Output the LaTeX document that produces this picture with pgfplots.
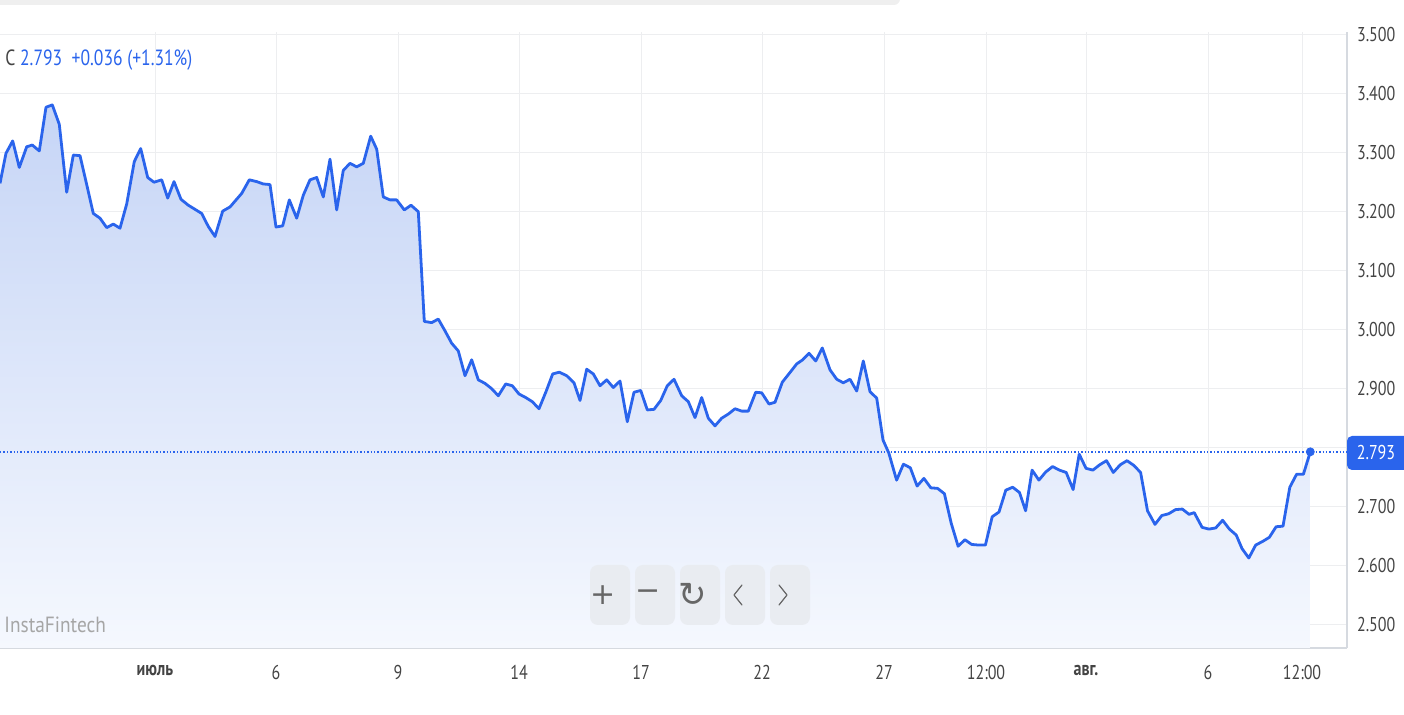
\documentclass[border=0pt]{standalone}
\usepackage{pgfplots}
\pgfplotsset{compat=1.18}
\usepackage{fontspec}
\setmainfont{PT Sans}[FakeStretch=0.88]
\newfontfamily\condfont{PT Sans}[FakeStretch=0.8]
\newfontfamily\symfont{DejaVu Sans}
\definecolor{lineblue}{HTML}{2A64EC}
\definecolor{filltop}{HTML}{C6D5F6}
\definecolor{fillbot}{HTML}{F5F8FE}
\definecolor{gridgray}{HTML}{EDEEF0}
\definecolor{axisgray}{HTML}{D6DAE0}
\definecolor{labelgray}{HTML}{444444}
\definecolor{btngray}{HTML}{E9ECF1}
\definecolor{topbar}{HTML}{EFEFEF}

% price, x in chart pixels
\pgfplotstableread{
x y
0 3.248
6 3.299
12.7 3.320
19.3 3.275
26.7 3.310
32.3 3.313
39.3 3.303
46 3.377
52.3 3.381
59.3 3.348
66.7 3.233
73.3 3.296
80 3.295
86.7 3.246
93.3 3.197
100 3.189
106.7 3.173
113.3 3.179
120 3.172
126.7 3.213
134.3 3.285
140.7 3.307
147.7 3.258
154 3.250
161.7 3.254
167.7 3.223
174 3.251
181 3.221
188.3 3.211
195 3.204
201.7 3.197
208.3 3.175
215 3.158
222.7 3.201
230 3.208
241.7 3.231
249.3 3.254
256.7 3.251
263.3 3.247
270 3.246
276 3.174
282.7 3.176
289.3 3.220
296.7 3.189
303.3 3.228
310 3.254
316.7 3.258
323.3 3.225
330 3.289
336.7 3.203
343.3 3.270
350 3.282
356.7 3.276
363.3 3.282
370.7 3.328
376.7 3.306
383.3 3.225
390 3.220
396.7 3.220
404.3 3.203
411 3.211
418.3 3.200
424.3 3.014
431.7 3.012
438.3 3.018
445 2.998
451.7 2.977
458.3 2.964
465 2.922
471.7 2.949
478.3 2.915
485 2.909
491.7 2.900
498.3 2.888
505.7 2.908
512.3 2.905
519 2.891
525.7 2.885
532.3 2.878
539 2.866
546 2.895
552.7 2.925
559.3 2.928
566.7 2.922
574 2.910
580 2.880
586.7 2.933
593.3 2.925
600 2.905
606.7 2.915
613.3 2.902
620 2.913
627.3 2.844
634 2.894
640.7 2.897
647.3 2.864
654 2.865
660.7 2.880
667.3 2.905
674 2.916
681.7 2.888
688.3 2.878
695 2.851
701.7 2.885
708.3 2.850
715 2.837
721.7 2.850
728.3 2.857
735 2.866
741.7 2.862
748.3 2.862
755.7 2.894
761.7 2.893
769 2.874
775 2.877
782.3 2.911
789.3 2.926
796.7 2.942
802.7 2.949
809 2.960
815.7 2.947
822.3 2.969
830 2.932
836.7 2.916
843.3 2.910
850 2.916
856.7 2.896
863.3 2.947
870 2.895
876.7 2.884
883 2.813
888.8 2.791
896.6 2.745
903.4 2.772
910.3 2.766
917.1 2.735
923.9 2.748
930.8 2.732
937.6 2.731
944.4 2.722
951.2 2.672
958.1 2.633
964.9 2.644
971.7 2.636
978.5 2.635
985.4 2.635
992.2 2.683
999 2.691
1005.8 2.728
1012.7 2.733
1019.5 2.724
1025.6 2.693
1032.1 2.762
1038.9 2.745
1045.8 2.759
1052.6 2.768
1059.4 2.762
1066.2 2.758
1073.1 2.729
1079.2 2.789
1086 2.765
1092.9 2.762
1099.7 2.771
1106.5 2.778
1113.3 2.758
1120.2 2.771
1127 2.778
1133.8 2.770
1140.6 2.758
1147.5 2.693
1155 2.670
1161.8 2.685
1168.6 2.688
1175.5 2.695
1182.3 2.696
1189.1 2.687
1194.2 2.690
1202.1 2.665
1208.9 2.662
1215.7 2.664
1222.6 2.677
1229.4 2.662
1236.2 2.652
1242 2.629
1248.8 2.613
1255.7 2.635
1262.5 2.641
1269.3 2.648
1276.1 2.666
1283 2.667
1289.8 2.733
1296.6 2.755
1303.4 2.755
1310.3 2.793
}\price

\begin{document}
\begin{tikzpicture}
\begin{axis}[
  at={(0pt,0pt)}, anchor=south west,
  scale only axis, width=673.5pt, height=308pt,
  xmin=0, xmax=1347, ymin=2.4605, ymax=3.5046,
  axis x line*=bottom, axis y line*=right,
  x axis line style={draw=axisgray, line width=1.2pt},
  y axis line style={draw=axisgray, line width=0.8pt},
  major tick length=0pt,
  grid=major, major grid style={draw=gridgray, line width=0.5pt},
  xtick={155,276,398,519,641,762,884,986,1086,1208,1302},
  xticklabels={\bfseries июль,6,9,14,17,22,27,12:00,\bfseries авг.,6,12:00},
  ytick={2.5,2.6,2.7,2.8,2.9,3.0,3.1,3.2,3.3,3.4,3.5},
  yticklabels={2.500,2.600,2.700,,2.900,3.000,3.100,3.200,3.300,3.400,3.500},
  tick label style={font=\condfont\fontsize{10}{11}\selectfont, text=labelgray},
  xticklabel style={yshift=-5pt},
  yticklabel style={xshift=1.5pt},
]
\addplot[draw=none, top color=filltop, bottom color=fillbot] table[x=x,y=y]{\price} \closedcycle;
\addplot[lineblue, densely dotted, line width=0.7pt] coordinates {(0,2.793) (1347,2.793)};
\addplot[lineblue, line width=1.4pt, line join=round] table[x=x,y=y]{\price};
\addplot[only marks, mark=*, mark size=2pt, color=lineblue] coordinates {(1310.3,2.793)};
\end{axis}

% scrollbar at the top
\fill[topbar, rounded corners=3pt] (-10pt,321.5pt) rectangle (450pt,334pt);
% header
\node[anchor=west, inner sep=0pt, font=\condfont\fontsize{11}{12}\selectfont] at (2.5pt,294pt)
  {\textcolor{labelgray}{C} \textcolor{lineblue}{2.793\ \ +0.036 (+1.31\%)}};
% watermark
\node[anchor=west, inner sep=0pt, text=black!35, font=\fontsize{11}{12}\selectfont] at (2pt,11.5pt) {InstaFintech};
% zoom buttons
\foreach \cx in {305,327.5,350,372.5,395}{
  \fill[btngray, rounded corners=4pt] (\cx pt-10pt,11.5pt) rectangle (\cx pt+10pt,41.5pt);
}
\foreach \cx/\s/\fs in {305/+/15, 327.5/−/15, 350/↻/17}{
  \node[text=black!60, font=\symfont\fontsize{\fs}{\fs}\selectfont] at (\cx pt-3.5pt,26.5pt) {\s};
}
\draw[black!60, line width=0.6pt, line cap=round, line join=round]
  (371pt,31.5pt) -- (367pt,26.5pt) -- (371pt,21.5pt);
\draw[black!60, line width=0.6pt, line cap=round, line join=round]
  (389.5pt,31.5pt) -- (393.5pt,26.5pt) -- (389.5pt,21.5pt);
% last price tag
\fill[lineblue, rounded corners=2.5pt] (673.5pt,89pt) rectangle (708pt,106pt);
\node[text=white, font=\condfont\fontsize{10}{11}\selectfont] at (688pt,97.5pt) {2.793};

\pgfresetboundingbox
\path[use as bounding box] (0pt,-33.5pt) rectangle (702pt,324pt);
\end{tikzpicture}
\end{document}
